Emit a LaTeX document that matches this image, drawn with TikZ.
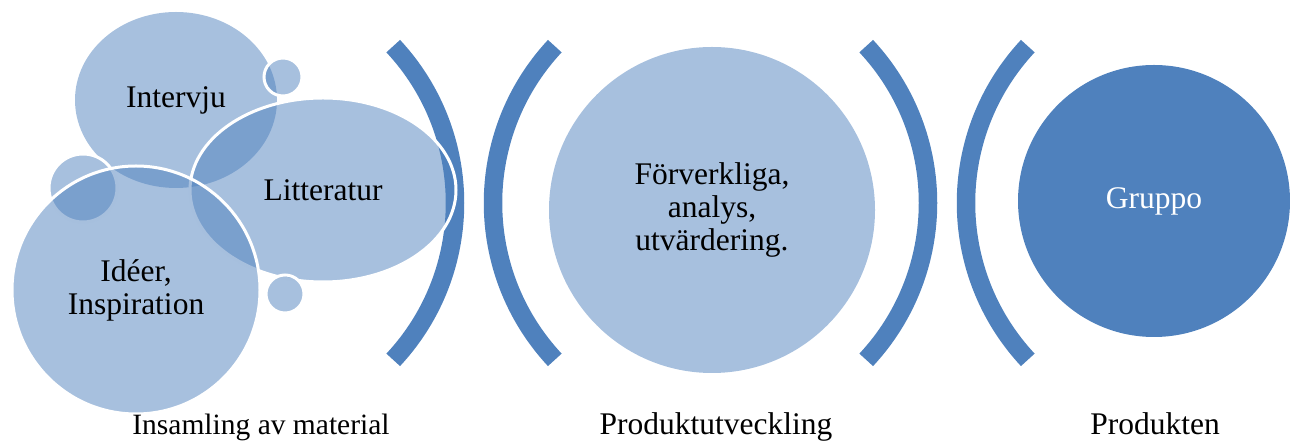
\documentclass[tikz,border=0pt]{standalone}
\usepackage{fontspec}
\setmainfont{Liberation Serif}
\usetikzlibrary{shapes.geometric}
\definecolor{accent}{HTML}{4F81BD}
\tikzset{
  bubble/.style={fill=accent, fill opacity=0.5, text opacity=1, draw=white, line width=3pt, inner sep=0pt},
  bracket/.style={draw=accent, line width=18.5pt},
  stagename/.style={anchor=base, inner sep=0pt}
}

\begin{document}
\begin{tikzpicture}[x=1pt,y=1pt,font=\fontsize{31.5}{33}\selectfont]
    \useasboundingbox (0,0) rectangle (1290,441);
    \coordinate (C1) at (225,238);
    \coordinate (C2) at (723,238);
    \coordinate (C3) at (698,238);
    \coordinate (C4) at (1196,238);

    % brackets
    \draw[bracket] ([shift={(-43:230)}]C1) arc[start angle=-43,end angle=43,radius=230];
    \draw[bracket] ([shift={(137:230)}]C2) arc[start angle=137,end angle=223,radius=230];
    \draw[bracket] ([shift={(-43:230)}]C3) arc[start angle=-43,end angle=43,radius=230];
    \draw[bracket] ([shift={(137:230)}]C4) arc[start angle=137,end angle=223,radius=230];

    % left cluster
    \node[bubble, ellipse, draw=none, minimum width=202pt, minimum height=176pt] (intervju) at (176,341) {Intervju};
    \node[bubble, circle, minimum size=38pt] (dotA) at (283,364) {};
    \node[bubble, ellipse, minimum width=266pt, minimum height=184pt] (litteratur) at (323,251) {Litteratur};
    \node[bubble, circle, minimum size=68pt] (dotB) at (83,253) {};
    \node[bubble, circle, minimum size=248pt, align=center] (ideer) at (136,151) {Idéer,\\Inspiration};
    \node[bubble, circle, minimum size=38pt] (dotC) at (285,147) {};

    \node[circle, fill=accent!50!white, minimum size=326pt, inner sep=0pt, align=center] (process) at (712,231) {Förverkliga,\\analys,\\utvärdering.};
    \node[circle, fill=accent, text=white, minimum size=272pt, inner sep=0pt] (gruppo) at (1154,240) {Gruppo};

    \node[stagename, font=\fontsize{29.5}{33}\selectfont] (stage1) at (261,6) {Insamling av material};
    \node[stagename] (stage2) at (716,6) {Produktutveckling};
    \node[stagename] (stage3) at (1155,6) {Produkten};
\end{tikzpicture}
\end{document}
